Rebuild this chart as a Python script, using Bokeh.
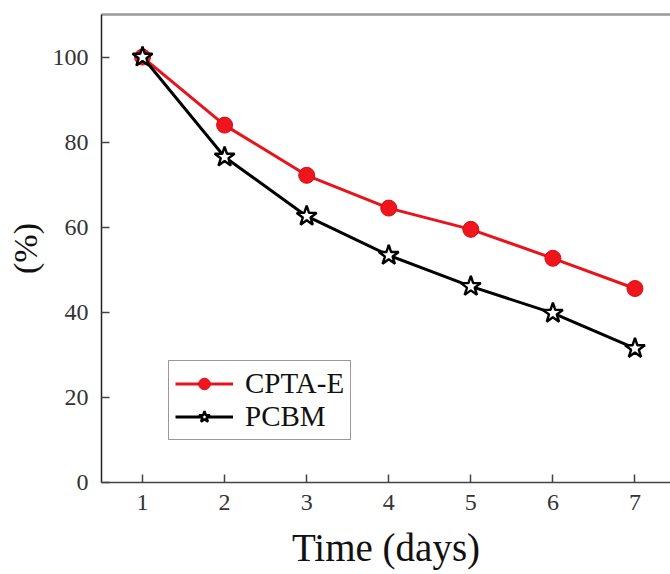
from bokeh.plotting import figure
from bokeh.models import LinearAxis, FixedTicker, Legend, LegendItem, Range1d
from bokeh.embed import file_html
from bokeh.resources import INLINE

days = [1, 2, 3, 4, 5, 6, 7]
cpta_e = [100, 84.0, 72.2, 64.5, 59.5, 52.7, 45.6]
pcbm = [100, 76.5, 62.6, 53.4, 46.1, 39.8, 31.5]
x_ticks = [1, 2, 3, 4, 5, 6, 7]
y_ticks = [0, 20, 40, 60, 80, 100]

FONT = "Liberation Serif"

p = figure(width=670, height=571, output_backend="svg", toolbar_location=None,
           x_range=Range1d(0.5, 7.433), y_range=Range1d(0, 110),
           min_border_left=101, min_border_right=0, min_border_top=14, min_border_bottom=10)
p.outline_line_color = None
p.grid.visible = False
p.background_fill_color = "white"
p.border_fill_color = "white"

for ax in (p.xaxis[0], p.yaxis[0]):
    ax.major_tick_in = 8
    ax.major_tick_out = 0
    ax.minor_tick_line_color = None
    ax.axis_line_width = 1.5
    ax.major_tick_line_width = 1.5
    ax.major_label_text_font = FONT
    ax.major_label_text_font_size = "24px"
    ax.major_label_text_color = "#333333"
    ax.axis_label_text_font = FONT
    ax.axis_label_text_font_style = "normal"
    ax.axis_label_text_color = "#111111"

p.xaxis[0].ticker = FixedTicker(ticks=x_ticks)
p.yaxis[0].ticker = FixedTicker(ticks=y_ticks)
p.xaxis[0].axis_line_color = "#444444"
p.xaxis[0].major_tick_line_color = "#444444"
p.yaxis[0].axis_line_color = "#222222"
p.yaxis[0].major_tick_line_color = "#444444"
p.xaxis[0].axis_label = "Time (days)"
p.xaxis[0].axis_label_text_font_size = "39px"
p.xaxis[0].major_label_standoff = 12
p.xaxis[0].axis_label_standoff = 13
p.yaxis[0].axis_label = "(%)"
p.yaxis[0].axis_label_text_font_size = "34px"
p.yaxis[0].major_label_standoff = 13
p.yaxis[0].axis_label_standoff = 6

top = LinearAxis(ticker=FixedTicker(ticks=[]), axis_line_color="#999999", axis_line_width=2.5,
                 major_tick_line_color=None, minor_tick_line_color=None,
                 major_label_text_font_size="0px")
p.add_layout(top, "above")

r1 = p.line(days, cpta_e, line_color="#e8141b", line_width=3)
s1 = p.scatter(days, cpta_e, marker="circle", size=16, fill_color="#f0141c",
               line_color="#d01018", line_width=1)
r2 = p.line(days, pcbm, line_color="black", line_width=3)
s2 = p.scatter(days, pcbm, marker="star", size=21, fill_color="white",
               line_color="black", line_width=2.4)

legend = Legend(items=[LegendItem(label="CPTA-E", renderers=[r1, s1]),
                       LegendItem(label="PCBM", renderers=[r2, s2])],
                location=(67, 42), orientation="vertical")
legend.label_text_font = FONT
legend.label_text_font_size = "29px"
legend.label_text_color = "#111111"
legend.glyph_width = 58
legend.glyph_height = 29
legend.label_height = 29
legend.label_standoff = 12
legend.spacing = 0
legend.padding = 6
legend.margin = 0
legend.border_line_color = "#333333"
legend.border_line_width = 1.5
legend.background_fill_alpha = 1
p.add_layout(legend, "center")

open("out.html", "w").write(file_html(p, INLINE))
